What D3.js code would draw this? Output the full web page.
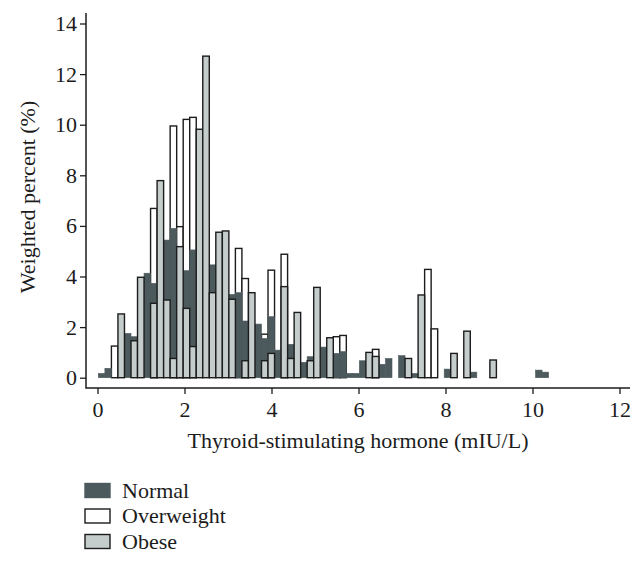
<!DOCTYPE html>
<html><head><meta charset="utf-8">
<script src="https://cdn.jsdelivr.net/npm/d3@7/dist/d3.min.js"></script>
<style>body{margin:0;background:#fff}svg{display:block}</style>
</head><body>
<svg id="chart" width="644" height="562"></svg>
<script>
// Histogram bins (mIU/L)
const binStart = 0.02;
const binWidth = 0.15;
// Weighted percent per bin, index = bin number
const normal = [0.17,0.37,0,0,1.75,1.62,0,4.13,3.73,0,5.44,5.90,0,4.23,5.05,0,0,4.46,0,0,3.29,3.36,2.24,0,2.12,1.55,2.41,1.09,0,1.32,0,0.61,0.83,0,1.21,0,0.96,1.03,0.17,0.17,0.67,0,0,0.53,0.76,0,0.87,0,0.17,0,0,0,0,0.34,0,0,0,0.22,0,0,0,0,0,0,0,0,0,0.30,0.22];
const overweight = [0,0,1.25,0,0,0,0,0,6.69,0,0,9.95,5.97,10.21,10.29,0,0,0,0,0,0,5.11,3.92,0,0,1.72,4.25,0,4.88,0,0,0,0,0,0,0,1.62,1.67,0,0,0,0,1.12,0,0,0,0,0,0,0,4.28,1.93,0,0,0,0,0,0,0,0,0,0,0,0,0,0,0,0,0];
const obese = [0,0,0,2.52,0,1.46,3.97,0,2.94,7.79,3.07,0.76,5.18,2.74,1.23,9.82,12.71,3.36,5.75,5.80,3.10,0,0.67,3.36,0,0.67,0.96,0,3.60,0.76,2.58,0,0.67,3.57,0,1.58,0,0,0,0,0,1.00,0.84,0,0,0,0,0.76,0,3.27,0,0,0,0,0.96,0,1.84,0,0,0,0.70,0,0,0,0,0,0,0,0];
const xTicks = [0,2,4,6,8,10,12];
const yTicks = [0,2,4,6,8,10,12,14];
const legendLabels = ["Normal","Overweight","Obese"];
const xTitle = "Thyroid-stimulating hormone (mIU/L)";
const yTitle = "Weighted percent (%)";

const FONT = "'Liberation Serif', 'Times New Roman', serif";
const FS = 22;
const INK = "#1c1c1c";
const DARK = "#4c5a5d";
const LIGHT = "#c4cccc";

const svg = d3.select("#chart");
const x = d3.scaleLinear().domain([0, 12]).range([97.5, 619.5]);
const y = d3.scaleLinear().domain([0, 14]).range([377.7, 23.5]);

// series in drawing order (back to front)
const layers = [
  {name: "Overweight", values: overweight, fill: "#ffffff", stroke: INK, sw: 1.4},
  {name: "Normal", values: normal, fill: DARK, stroke: DARK, sw: 0.6},
  {name: "Obese", values: obese, fill: LIGHT, stroke: INK, sw: 1.4}
];

layers.forEach(L => {
  const data = L.values.map((v, i) => ({i, v})).filter(d => d.v > 0);
  svg.append("g").selectAll("rect").data(data).join("rect")
    .attr("x", d => x(binStart + d.i * binWidth))
    .attr("width", d => x(binStart + (d.i + 1) * binWidth) - x(binStart + d.i * binWidth))
    .attr("y", d => y(d.v))
    .attr("height", d => y(0) - y(d.v))
    .attr("fill", L.fill)
    .attr("stroke", L.stroke)
    .attr("stroke-width", L.sw);
});

// axes
const axisX = 86, axisY = 388;
const gx = svg.append("g").attr("transform", `translate(0,${axisY})`)
  .call(d3.axisBottom(x).tickValues(xTicks).tickSize(6).tickPadding(7).tickFormat(d3.format("d")));
gx.select(".domain").remove();
const gy = svg.append("g").attr("transform", `translate(${axisX},0)`)
  .call(d3.axisLeft(y).tickValues(yTicks).tickSize(6).tickPadding(3).tickFormat(d3.format("d")));
gy.select(".domain").remove();
[gx, gy].forEach(g => {
  g.selectAll("line").attr("stroke", INK).attr("stroke-width", 1.3);
  g.selectAll("text").attr("font-family", FONT).attr("font-size", FS).attr("fill", INK);
});
svg.append("path")
  .attr("d", `M${axisX},13V${axisY}H630`)
  .attr("fill", "none").attr("stroke", INK).attr("stroke-width", 1.5);

svg.append("text").attr("x", 358).attr("y", 448)
  .attr("text-anchor", "middle").attr("font-family", FONT).attr("font-size", FS).attr("fill", INK)
  .text(xTitle);
svg.append("text").attr("transform", "translate(35,197) rotate(-90)")
  .attr("text-anchor", "middle").attr("font-family", FONT).attr("font-size", FS).attr("fill", INK)
  .text(yTitle);

// legend
const legFill = {Normal: DARK, Overweight: "#ffffff", Obese: LIGHT};
const legStroke = {Normal: DARK, Overweight: INK, Obese: INK};
const lg = svg.append("g").selectAll("g").data(legendLabels).join("g")
  .attr("transform", (d, i) => `translate(85,${483.5 + i * 25.5})`);
lg.append("rect").attr("width", 25).attr("height", 14)
  .attr("fill", d => legFill[d]).attr("stroke", d => legStroke[d]).attr("stroke-width", 1.4);
lg.append("text").attr("x", 37).attr("y", 14)
  .attr("font-family", FONT).attr("font-size", FS).attr("fill", INK)
  .text(d => d);
</script>
</body></html>
